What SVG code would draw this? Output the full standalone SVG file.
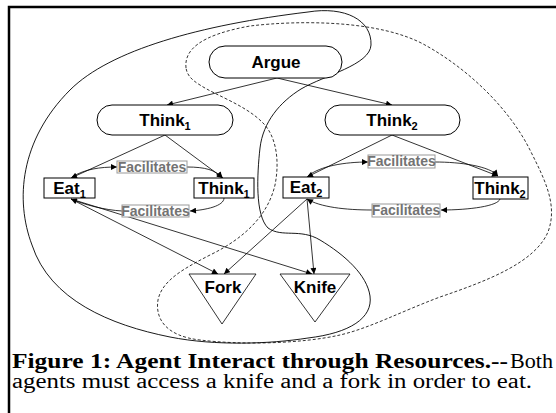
<svg xmlns="http://www.w3.org/2000/svg" width="556" height="413" viewBox="0 0 556 413">
  <style>
    .goal { fill: #fff; stroke: #000; stroke-width: 1; }
    .box { fill: #fff; stroke: #000; stroke-width: 1; }
    .res { fill: #fff; stroke: #000; stroke-width: 0.8; }
    .lbl { font-family: "Liberation Sans", Arial, sans-serif; font-weight: bold; font-size: 17px; fill: #000; text-anchor: middle; }
    .sub { font-size: 11px; }
    .fac-box { fill: #fff; stroke: #999; stroke-width: 1; }
    .fac { font-family: "Liberation Sans", Arial, sans-serif; font-weight: bold; font-size: 14px; fill: #737373; text-anchor: middle; }
    .edge { fill: none; stroke: #000; stroke-width: 0.8; marker-end: url(#arr); }
    .agent1 { fill: none; stroke: #000; stroke-width: 0.9; }
    .agent2 { fill: none; stroke: #000; stroke-width: 0.8; stroke-dasharray: 3 2; }
    .cap { font-family: "Liberation Serif", "Times New Roman", serif; font-size: 20px; fill: #000; }
  </style>
  <defs>
    <marker id="arr" viewBox="0 0 10 10" refX="10" refY="5" markerWidth="7" markerHeight="6" markerUnits="userSpaceOnUse" orient="auto">
      <path d="M0,0 L10,5 L0,10 Z" fill="#000"/>
    </marker>
  </defs>

  <!-- page frame -->
  <path d="M9,413 V7 H556" fill="none" stroke="#000" stroke-width="2.5"/>

  <!-- agent boundaries: solid = agent 1, dashed = agent 2 -->
  <g id="agent-boundaries">
    <path class="agent1" d="M308,12 C345,6 372,20 371,45 C370,65 325,75 301,89 C280,102 263,122 260,148 C257,175 255,215 268,228 C282,238 300,228 320,240 C345,255 367,275 370,296 C373,318 350,333 308,338 C270,344 215,346 170,337 C110,325 50,300 32,245 C15,200 20,140 70,90 C110,50 200,25 308,12 Z"/>
    <path class="agent2" d="M186,68 C184,50 200,35 250,26 C300,20 380,20 425,45 C470,70 510,110 530,150 C545,180 558,205 548,232 C535,262 490,280 440,297 C400,312 370,328 340,335 C300,344 240,345 200,340 C165,336 155,318 158,300 C162,280 185,268 210,255 C245,238 268,215 275,185 C280,160 276,135 262,122 C245,105 215,95 200,85 C190,79 187,74 186,68 Z"/>
  </g>

  <!-- connectors -->
  <g id="connectors">
    <line class="edge" x1="277" y1="78" x2="167" y2="105"/>
    <line class="edge" x1="277" y1="78" x2="392" y2="105"/>
    <line class="edge" x1="165" y1="135" x2="71" y2="178"/>
    <line class="edge" x1="165" y1="135" x2="223" y2="178"/>
    <line class="edge" x1="392" y1="135" x2="307" y2="177"/>
    <line class="edge" x1="392" y1="135" x2="498" y2="176"/>
    <!-- facilitates, agent 1 -->
    <path class="edge" d="M72,177 C85,169 100,167 117,167"/>
    <path class="edge" d="M187,167 C205,167 216,170 222,178"/>
    <path class="edge" d="M224,198 C224,206 206,210 190,211"/>
    <path class="edge" d="M122,211 C105,210 85,205 71,199"/>
    <!-- facilitates, agent 2 -->
    <path class="edge" d="M308,176 C320,166 345,162 368,162"/>
    <path class="edge" d="M435,162 C460,162 490,166 498,176"/>
    <path class="edge" d="M500,199 C498,206 470,210 441,210"/>
    <path class="edge" d="M372,210 C345,210 320,207 307,199"/>
    <!-- resource access -->
    <line class="edge" x1="71" y1="199" x2="218" y2="274"/>
    <line class="edge" x1="71" y1="199" x2="312" y2="274"/>
    <line class="edge" x1="307" y1="199" x2="224" y2="274"/>
    <line class="edge" x1="307" y1="199" x2="314" y2="274"/>
  </g>

  <!-- goals -->
  <g id="argue">
    <rect class="goal" x="209" y="46" width="133" height="32" rx="16"/>
    <text class="lbl" x="276" y="68">Argue</text>
  </g>
  <g id="think1-goal">
    <rect class="goal" x="97" y="105" width="136" height="30" rx="15"/>
    <text class="lbl" x="165" y="126">Think<tspan class="sub" dy="4">1</tspan></text>
  </g>
  <g id="think2-goal">
    <rect class="goal" x="325" y="105" width="135" height="30" rx="15"/>
    <text class="lbl" x="392" y="126">Think<tspan class="sub" dy="4">2</tspan></text>
  </g>

  <!-- tasks -->
  <g id="eat1">
    <rect class="box" x="44" y="178" width="51" height="20"/>
    <text class="lbl" x="69.5" y="194">Eat<tspan class="sub" dy="4">1</tspan></text>
  </g>
  <g id="think1">
    <rect class="box" x="194" y="178" width="60" height="20"/>
    <text class="lbl" x="224" y="194">Think<tspan class="sub" dy="4">1</tspan></text>
  </g>
  <g id="eat2">
    <rect class="box" x="283" y="177" width="46" height="21"/>
    <text class="lbl" x="306" y="193">Eat<tspan class="sub" dy="4">2</tspan></text>
  </g>
  <g id="think2">
    <rect class="box" x="473" y="177" width="55" height="22"/>
    <text class="lbl" x="500" y="194">Think<tspan class="sub" dy="4">2</tspan></text>
  </g>

  <!-- facilitates labels -->
  <g id="fac1-top">
    <rect class="fac-box" x="117" y="161" width="70" height="12"/>
    <text class="fac" x="152" y="172">Facilitates</text>
  </g>
  <g id="fac1-bottom">
    <rect class="fac-box" x="122" y="205" width="67" height="12"/>
    <text class="fac" x="155.5" y="216">Facilitates</text>
  </g>
  <g id="fac2-top">
    <rect class="fac-box" x="368" y="155" width="67" height="13"/>
    <text class="fac" x="401.5" y="166">Facilitates</text>
  </g>
  <g id="fac2-bottom">
    <rect class="fac-box" x="372" y="204" width="68" height="13"/>
    <text class="fac" x="406" y="215">Facilitates</text>
  </g>

  <!-- resources -->
  <g id="fork">
    <polygon class="res" points="189,274 256,274 222,324"/>
    <text class="lbl" x="223" y="293">Fork</text>
  </g>
  <g id="knife">
    <polygon class="res" points="280,274 350,274 315,322"/>
    <text class="lbl" x="315" y="293">Knife</text>
  </g>

  <!-- caption -->
  <text class="cap" x="12" y="368" font-weight="bold" textLength="496" lengthAdjust="spacingAndGlyphs">Figure 1: Agent Interact through Resources.--</text>
  <text class="cap" x="510" y="368" textLength="43" lengthAdjust="spacingAndGlyphs">Both</text>
  <text class="cap" x="12" y="388" textLength="520" lengthAdjust="spacingAndGlyphs">agents must access a knife and a fork in order to eat.</text>
</svg>
